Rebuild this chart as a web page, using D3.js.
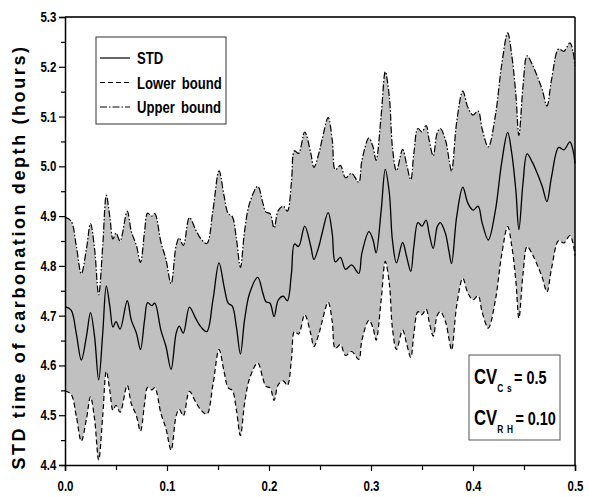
<!DOCTYPE html>
<html>
<head>
<meta charset="utf-8">
<script src="https://cdn.jsdelivr.net/npm/d3@7"></script>
<style>
  body { margin: 0; background: #fff; }
  svg { display: block; }
  .narrow { font-family: "Liberation Sans", Arial, sans-serif; font-weight: bold; }
</style>
</head>
<body>
<div id="chart"></div>
<script>
// Valores
const xValues = [0.000, 0.006, 0.011, 0.016, 0.021, 0.025, 0.029, 0.033, 0.037, 0.0405,
  0.044, 0.047, 0.050, 0.054, 0.061, 0.065, 0.070, 0.074, 0.078, 0.081,
  0.085, 0.088, 0.094, 0.099, 0.104, 0.109, 0.112, 0.116, 0.122, 0.128,
  0.133, 0.139, 0.145, 0.151, 0.156, 0.160, 0.164, 0.168, 0.172, 0.176,
  0.181, 0.189, 0.194, 0.197, 0.201, 0.205, 0.209, 0.214, 0.218, 0.222,
  0.225, 0.229, 0.235, 0.241, 0.244, 0.249, 0.252, 0.258, 0.262, 0.265,
  0.270, 0.275, 0.281, 0.288, 0.291, 0.298, 0.302, 0.305, 0.310, 0.314,
  0.318, 0.321, 0.325, 0.331, 0.335, 0.339, 0.342, 0.346, 0.350, 0.354,
  0.357, 0.361, 0.365, 0.368, 0.373, 0.3765, 0.379, 0.384, 0.390, 0.395,
  0.400, 0.405, 0.409, 0.415, 0.422, 0.428, 0.434, 0.438, 0.442, 0.445,
  0.449, 0.453, 0.458, 0.463, 0.468, 0.4725, 0.477, 0.484, 0.489, 0.495,
  0.498, 0.500];

const stdValues = [4.718, 4.711, 4.665, 4.611, 4.658, 4.706, 4.658, 4.571, 4.665, 4.760,
  4.718, 4.677, 4.688, 4.673, 4.730, 4.691, 4.665, 4.632, 4.691, 4.726,
  4.720, 4.725, 4.671, 4.638, 4.592, 4.665, 4.679, 4.665, 4.717, 4.695,
  4.678, 4.668, 4.731, 4.806, 4.758, 4.725, 4.719, 4.678, 4.623, 4.691,
  4.745, 4.777, 4.745, 4.728, 4.725, 4.698, 4.731, 4.739, 4.730, 4.785,
  4.844, 4.839, 4.880, 4.839, 4.813, 4.840, 4.865, 4.907, 4.865, 4.808,
  4.817, 4.793, 4.802, 4.785, 4.825, 4.869, 4.852, 4.826, 4.912, 4.994,
  4.946, 4.852, 4.806, 4.847, 4.818, 4.789, 4.839, 4.887, 4.880, 4.892,
  4.865, 4.835, 4.879, 4.887, 4.865, 4.828, 4.805, 4.899, 4.958, 4.926,
  4.912, 4.920, 4.886, 4.852, 4.912, 5.006, 5.068, 5.026, 4.952, 4.873,
  4.966, 5.025, 5.009, 4.986, 4.959, 4.929, 4.979, 5.038, 5.033, 5.049,
  5.033, 5.006];

const lowerValues = [4.549, 4.542, 4.499, 4.448, 4.492, 4.537, 4.492, 4.410, 4.499, 4.588,
  4.549, 4.510, 4.520, 4.506, 4.560, 4.523, 4.499, 4.468, 4.523, 4.556,
  4.551, 4.555, 4.504, 4.473, 4.430, 4.499, 4.512, 4.499, 4.548, 4.527,
  4.511, 4.502, 4.561, 4.632, 4.587, 4.555, 4.550, 4.511, 4.459, 4.523,
  4.574, 4.605, 4.574, 4.558, 4.555, 4.530, 4.561, 4.569, 4.560, 4.612,
  4.668, 4.663, 4.702, 4.663, 4.638, 4.664, 4.688, 4.727, 4.688, 4.634,
  4.642, 4.620, 4.628, 4.612, 4.650, 4.691, 4.675, 4.651, 4.732, 4.809,
  4.764, 4.675, 4.632, 4.671, 4.643, 4.616, 4.663, 4.708, 4.702, 4.713,
  4.688, 4.659, 4.701, 4.708, 4.688, 4.653, 4.631, 4.720, 4.775, 4.745,
  4.732, 4.740, 4.707, 4.675, 4.732, 4.821, 4.879, 4.840, 4.770, 4.695,
  4.783, 4.839, 4.824, 4.802, 4.776, 4.748, 4.795, 4.851, 4.846, 4.861,
  4.846, 4.821];

const upperValues = [4.898, 4.890, 4.841, 4.784, 4.834, 4.885, 4.834, 4.742, 4.841, 4.942,
  4.898, 4.854, 4.866, 4.850, 4.910, 4.869, 4.841, 4.807, 4.869, 4.906,
  4.900, 4.905, 4.848, 4.813, 4.764, 4.841, 4.856, 4.841, 4.897, 4.873,
  4.855, 4.845, 4.911, 4.991, 4.940, 4.905, 4.899, 4.855, 4.797, 4.869,
  4.926, 4.960, 4.926, 4.908, 4.905, 4.876, 4.911, 4.920, 4.910, 4.968,
  5.031, 5.026, 5.069, 5.026, 4.998, 5.027, 5.053, 5.098, 5.053, 4.993,
  5.002, 4.977, 4.986, 4.968, 5.011, 5.057, 5.039, 5.012, 5.103, 5.190,
  5.139, 5.039, 4.991, 5.034, 5.003, 4.973, 5.026, 5.076, 5.069, 5.082,
  5.053, 5.021, 5.068, 5.076, 5.053, 5.014, 4.990, 5.089, 5.151, 5.118,
  5.103, 5.111, 5.075, 5.039, 5.103, 5.202, 5.268, 5.223, 5.145, 5.062,
  5.160, 5.222, 5.205, 5.181, 5.153, 5.121, 5.174, 5.236, 5.231, 5.248,
  5.231, 5.202];

const xTicks = [0.0, 0.1, 0.2, 0.3, 0.4, 0.5];
const xMinorTicks = [0.05, 0.15, 0.25, 0.35, 0.45];
const yTicks = [4.4, 4.5, 4.6, 4.7, 4.8, 4.9, 5.0, 5.1, 5.2, 5.3];
const yMinorTicks = [4.45, 4.55, 4.65, 4.75, 4.85, 4.95, 5.05, 5.15, 5.25];

const legendLabels = ["STD", "Lower bound", "Upper bound"];

function renderChart() {
    const width = 589;
    const height = 497;
    const margin = { top: 17, right: 14, bottom: 32, left: 65 };
    const squeeze = "scale(0.82,1)"; // letra estrecha como en el original

    const svg = d3.select("#chart")
        .append("svg")
        .attr("width", width)
        .attr("height", height);

    // Escalas
    const x = d3.scaleLinear().domain([0, 0.5]).range([margin.left, width - margin.right]);
    const y = d3.scaleLinear().domain([4.4, 5.3]).range([height - margin.bottom, margin.top]);

    const data = xValues.map((v, i) => ({
        x: v, std: stdValues[i], lo: lowerValues[i], up: upperValues[i]
    }));

    const curve = d3.curveCatmullRom.alpha(0.5);

    // Banda gris entre límites
    svg.append("path")
        .datum(data)
        .attr("fill", "#c0c0c0")
        .attr("d", d3.area()
            .x(d => x(d.x))
            .y0(d => y(d.lo))
            .y1(d => y(d.up))
            .curve(curve));

    const line = key => d3.line().x(d => x(d.x)).y(d => y(d[key])).curve(curve);

    svg.append("path").datum(data)
        .attr("fill", "none").attr("stroke", "#000").attr("stroke-width", 1.2)
        .attr("stroke-dasharray", "5,3")
        .attr("d", line("lo"));

    svg.append("path").datum(data)
        .attr("fill", "none").attr("stroke", "#000").attr("stroke-width", 1.2)
        .attr("stroke-dasharray", "7,2,1.5,2")
        .attr("d", line("up"));

    svg.append("path").datum(data)
        .attr("fill", "none").attr("stroke", "#000").attr("stroke-width", 1.3)
        .attr("d", line("std"));

    // Marco superior y derecho
    svg.append("line")
        .attr("x1", x(0)).attr("x2", x(0.5))
        .attr("y1", y(5.3)).attr("y2", y(5.3))
        .attr("stroke", "#333").attr("stroke-width", 2);
    svg.append("line")
        .attr("x1", x(0.5)).attr("x2", x(0.5))
        .attr("y1", y(5.3)).attr("y2", y(4.4))
        .attr("stroke", "#000").attr("stroke-width", 1.5);

    // Ejes
    svg.append("g")
        .attr("class", "x-axis")
        .attr("transform", `translate(0,${y(4.4)})`)
        .call(d3.axisBottom(x).tickValues(xTicks).tickFormat(d3.format(".1f")).tickSize(6).tickPadding(10));
    svg.append("g")
        .attr("transform", `translate(0,${y(4.4)})`)
        .call(d3.axisBottom(x).tickValues(xMinorTicks).tickFormat("").tickSize(5))
        .select(".domain").remove();

    svg.append("g")
        .attr("class", "y-axis")
        .attr("transform", `translate(${x(0)},0)`)
        .call(d3.axisLeft(y).tickValues(yTicks).tickFormat(d3.format(".1f")).tickSize(6).tickPadding(4.5));
    svg.append("g")
        .attr("transform", `translate(${x(0)},0)`)
        .call(d3.axisLeft(y).tickValues(yMinorTicks).tickFormat("").tickSize(4))
        .select(".domain").remove();

    svg.selectAll(".tick line").attr("stroke", "#000").attr("stroke-width", 1.2);
    svg.selectAll(".domain").attr("stroke", "#000").attr("stroke-width", 1.5);
    svg.selectAll(".tick text")
        .attr("class", "narrow")
        .attr("transform", squeeze)
        .style("font-size", "14px")
        .attr("fill", "#000");

    // Título del eje Y
    svg.append("text")
        .attr("transform", "rotate(-90)")
        .attr("x", -257)
        .attr("y", 25)
        .attr("text-anchor", "middle")
        .style("font-family", "'Liberation Sans', Arial, sans-serif")
        .style("font-weight", "bold")
        .style("font-size", "18px")
        .style("letter-spacing", "2.6px")
        .text("STD time of carbonation depth (hours)");

    // Leyenda
    const lg = svg.append("g");
    lg.append("rect")
        .attr("x", 96).attr("y", 37).attr("width", 130).attr("height", 87)
        .attr("fill", "#fff").attr("stroke", "#333").attr("stroke-width", 1);
    const dashes = [null, "5,3", "7,2,1.5,2"];
    legendLabels.forEach((label, i) => {
        const yy = 58 + i * 24.5;
        lg.append("line")
            .attr("x1", 100).attr("x2", 130).attr("y1", yy).attr("y2", yy)
            .attr("stroke", "#000").attr("stroke-width", 1.2)
            .attr("stroke-dasharray", dashes[i]);
        lg.append("g")
            .attr("transform", `translate(137,${yy + 6})`)
            .append("text")
            .attr("class", "narrow")
            .attr("transform", squeeze)
            .style("font-size", "16px")
            .style("word-spacing", "3px")
            .text(label);
    });

    // Cuadro de anotación
    const ann = svg.append("g");
    ann.append("rect")
        .attr("x", 469).attr("y", 355).attr("width", 91).attr("height", 85)
        .attr("fill", "#fff").attr("stroke", "#555").attr("stroke-width", 1);
    const annLines = [["CV", "C s", "= 0.5"], ["CV", "R H", "= 0.10"]];
    annLines.forEach((parts, i) => {
        const t = ann.append("g")
            .attr("transform", `translate(474,${384 + i * 41})`)
            .append("text")
            .attr("class", "narrow")
            .attr("transform", "scale(0.76,1)")
            .style("font-size", "22px");
        t.append("tspan").text(parts[0]);
        t.append("tspan").attr("dy", 8).style("font-size", "11px")
            .style("letter-spacing", "1px").text(parts[1]);
        t.append("tspan").attr("dy", -8).attr("dx", 2).style("font-size", "19px").text(parts[2]);
    });
}

document.addEventListener("DOMContentLoaded", renderChart);
</script>
</body>
</html>
